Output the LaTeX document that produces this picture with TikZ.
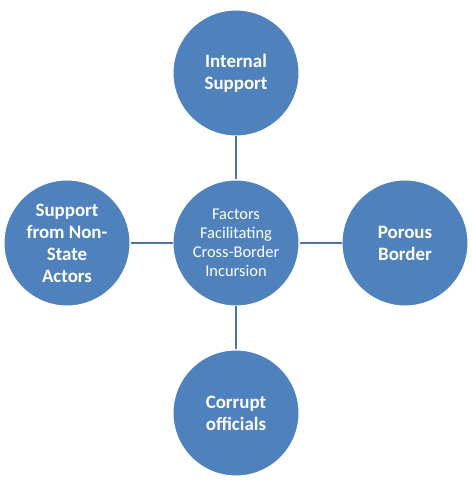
\documentclass[tikz,border=0pt]{standalone}
\usepackage{fontspec}
\setmainfont{Carlito}
\usepackage{xcolor}
\usepackage{tikz}
\usetikzlibrary{positioning}

\definecolor{circblue}{HTML}{4F81BD}
\definecolor{linkblue}{HTML}{4A74A8}

\begin{document}
\begin{tikzpicture}[
  x=1bp, y=1bp,
  hubnode/.style={circle, fill=circblue, draw=white, line width=1pt,
                  minimum size=126bp, inner sep=0pt, text=white,
                  align=center, font=\fontsize{16.5}{19}\selectfont},
  factnode/.style={hubnode, font=\bfseries\fontsize{19}{22}\selectfont},
  link/.style={draw=linkblue, line width=2.5bp}
]
\useasboundingbox (-236,-239) rectangle (236,243);

% Central hub
\node[hubnode] (hub) at (0,0) {Factors\\Facilitating\\Cross-Border\\Incursion};

% Four factors
\node[factnode, above=43bp of hub] (internal) {Internal\\Support};
\node[factnode, below=43bp of hub] (corrupt) {Corrupt\\officials};
\node[factnode, left=42bp of hub] (nonstate) {Support\\from Non-\\State\\Actors};
\node[factnode, right=42bp of hub] (porous) {Porous\\Border};

\draw[link] (hub) -- (internal);
\draw[link] (hub) -- (corrupt);
\draw[link] (hub) -- (nonstate);
\draw[link] (hub) -- (porous);

\end{tikzpicture}
\end{document}
